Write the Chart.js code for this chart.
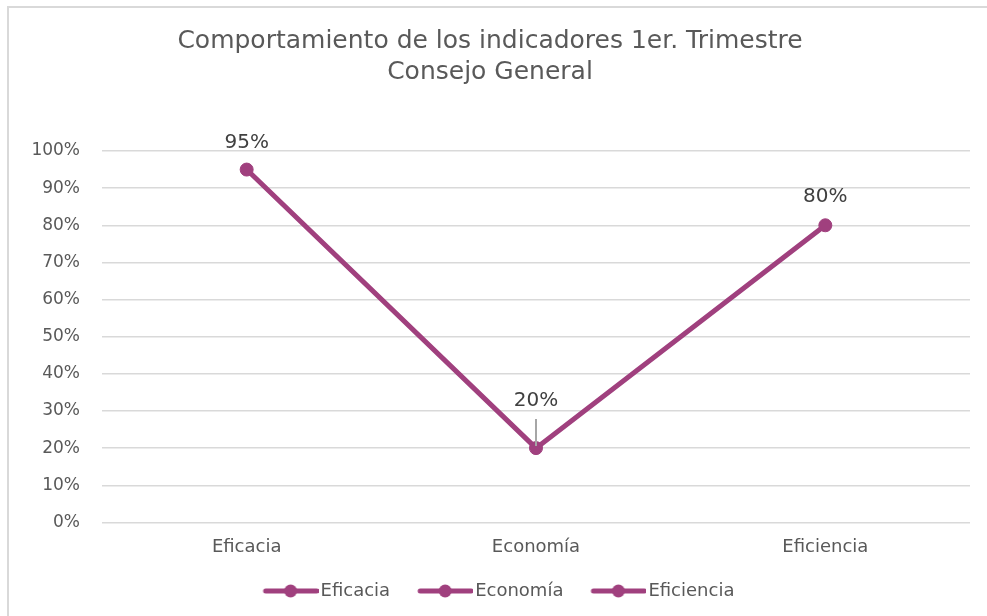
<!DOCTYPE html>
<html>
<head>
<meta charset="utf-8">
<script src="https://cdn.jsdelivr.net/npm/chart.js@4/dist/chart.umd.min.js"></script>
<style>
  html, body { margin: 0; padding: 0; background: #ffffff; }
  #marco {
    position: absolute; left: 7px; top: 6px; width: 990px; height: 620px;
    border-top: 2px solid #d9d9d9; border-left: 2px solid #d9d9d9;
  }
  #lienzo { position: absolute; left: 0; top: 0; width: 987px; height: 616px; }
</style>
</head>
<body>
<div id="marco"></div>
<div id="lienzo"><canvas id="grafico" width="987" height="616"></canvas></div>
<script>
// datos
const titulo = ['Comportamiento de los indicadores 1er. Trimestre', 'Consejo General'];
const categorias = ['Eficacia', 'Economía', 'Eficiencia'];
const valores = [95, 20, 80];
const ticksY = [0, 10, 20, 30, 40, 50, 60, 70, 80, 90, 100];

const morado = '#a0407e';
const gris = '#595959';
const fuente = 'DejaVu Sans';

// símbolo de leyenda: línea con círculo al centro (estilo Excel)
function simboloLeyenda() {
  const c = document.createElement('canvas');
  c.width = 80; c.height = 16;
  const g = c.getContext('2d');
  g.strokeStyle = morado;
  g.lineWidth = 5;
  g.lineCap = 'round';
  g.beginPath(); g.moveTo(27, 8); g.lineTo(78, 8); g.stroke();
  g.fillStyle = morado;
  g.beginPath(); g.arc(52, 8, 6.5, 0, Math.PI * 2); g.fill();
  return c;
}
const simbolo = simboloLeyenda();

// etiquetas de datos sobre cada punto (la de 20% lleva línea guía)
const etiquetas = {
  id: 'etiquetas',
  afterDatasetsDraw(chart, args, opts) {
    const ctx = chart.ctx;
    const meta = chart.getDatasetMeta(0);
    ctx.save();
    ctx.font = '20px "' + fuente + '"';
    ctx.fillStyle = '#404040';
    ctx.textAlign = 'center';
    ctx.textBaseline = 'middle';
    meta.data.forEach((p, i) => {
      const alto = opts.alturas[i];
      if (alto > 35) {
        ctx.strokeStyle = '#a6a6a6';
        ctx.lineWidth = 2;
        ctx.beginPath();
        ctx.moveTo(p.x, p.y - alto + 18);
        ctx.lineTo(p.x, p.y - 2);
        ctx.stroke();
      }
      ctx.fillText(valores[i] + '%', p.x, p.y - alto);
    });
    ctx.restore();
  }
};

new Chart(document.getElementById('grafico'), {
  type: 'line',
  data: {
    labels: categorias,
    datasets: [{
      label: 'Indicadores',
      data: valores,
      borderColor: morado,
      backgroundColor: morado,
      borderWidth: 5,
      pointRadius: 6.5,
      pointBorderWidth: 1,
      pointBackgroundColor: morado,
      pointBorderColor: morado,
      tension: 0,
      clip: false
    }]
  },
  options: {
    responsive: false,
    animation: false,
    layout: { padding: { left: 10, right: 17, top: 0, bottom: 6 } },
    plugins: {
      tooltip: { enabled: false },
      etiquetas: { alturas: [27, 47, 28] },
      title: {
        display: true,
        text: titulo,
        color: gris,
        font: { family: fuente, size: 25, weight: 'normal', lineHeight: 1.24 },
        padding: { top: 26, bottom: 63 }
      },
      legend: {
        position: 'bottom',
        onClick: null,
        labels: {
          usePointStyle: true,
          pointStyleWidth: 66,
          padding: 10,
          color: gris,
          font: { family: fuente, size: 18 },
          generateLabels: () => categorias.map((c, i) => ({
            text: c,
            pointStyle: simbolo,
            fillStyle: morado,
            strokeStyle: morado,
            lineWidth: 0,
            hidden: false,
            fontColor: gris,
            datasetIndex: 0,
            index: i
          }))
        }
      }
    },
    scales: {
      x: {
        offset: true,
        grid: { display: false, drawTicks: false },
        border: { display: false },
        ticks: { color: gris, font: { family: fuente, size: 18 }, padding: 14 }
      },
      y: {
        min: 0,
        max: 100,
        afterFit: (s) => { s.width = 92; },
        afterBuildTicks: (s) => { s.ticks = ticksY.map(v => ({ value: v })); },
        grid: { color: '#d9d9d9', lineWidth: 1.5, drawTicks: false },
        border: { display: false },
        ticks: {
          color: gris,
          font: { family: fuente, size: 17 },
          padding: 22,
          callback: (v) => v + '%'
        }
      }
    }
  },
  plugins: [etiquetas]
});
</script>
</body>
</html>
